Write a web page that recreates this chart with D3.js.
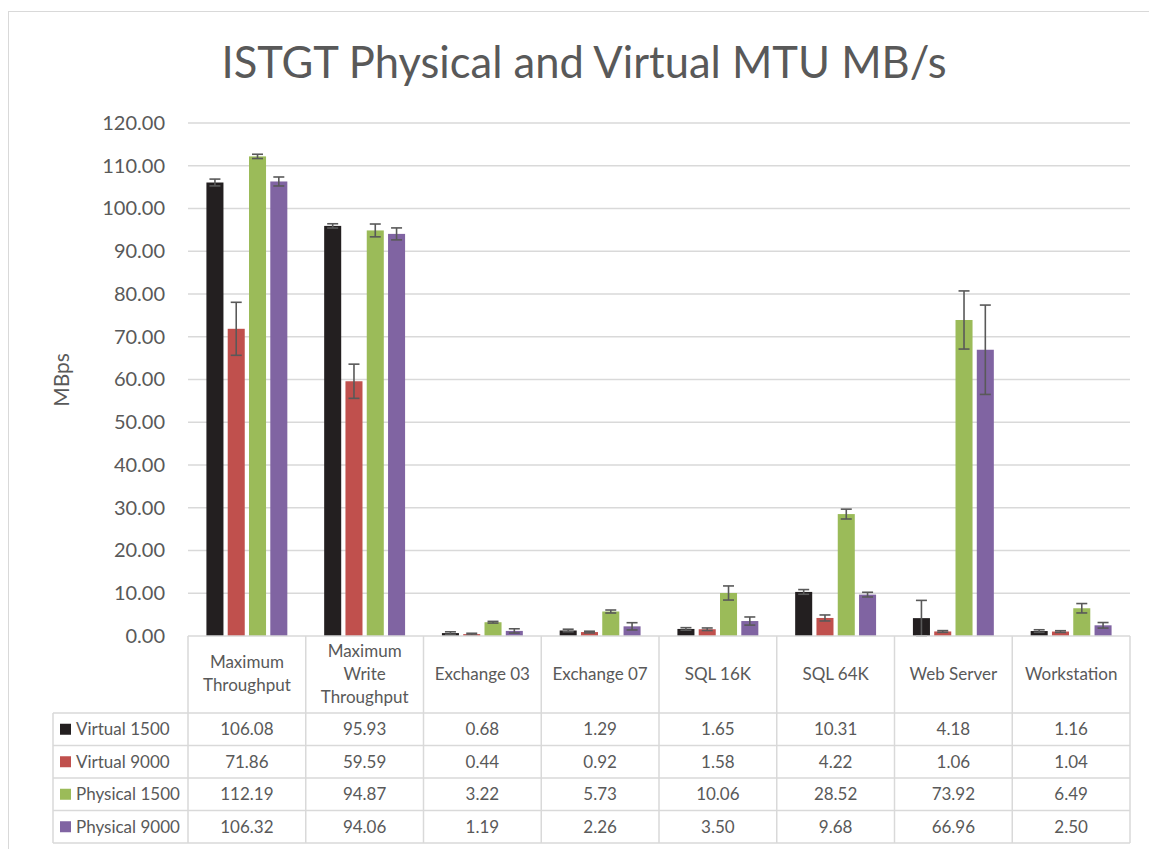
<!DOCTYPE html>
<html>
<head>
<meta charset="utf-8">
<script src="https://cdn.jsdelivr.net/npm/d3@7"></script>
<style>
  body { margin: 0; background: #fff; }
  svg text { font-family: Lato, "Open Sans", sans-serif; fill: #595959; }
</style>
</head>
<body>
<div class="bar-chart"></div>
<script>
// DATA ------------------------------
const categories = ["Maximum Throughput", "Maximum Write Throughput", "Exchange 03", "Exchange 07", "SQL 16K", "SQL 64K", "Web Server", "Workstation"]
const categoryLines = [["Maximum", "Throughput"], ["Maximum", "Write", "Throughput"], ["Exchange 03"], ["Exchange 07"], ["SQL 16K"], ["SQL 64K"], ["Web Server"], ["Workstation"]]
const seriesNames = ["Virtual 1500", "Virtual 9000", "Physical 1500", "Physical 9000"]
const virtual1500 = [106.08, 95.93, 0.68, 1.29, 1.65, 10.31, 4.18, 1.16]
const virtual9000 = [71.86, 59.59, 0.44, 0.92, 1.58, 4.22, 1.06, 1.04]
const physical1500 = [112.19, 94.87, 3.22, 5.73, 10.06, 28.52, 73.92, 6.49]
const physical9000 = [106.32, 94.06, 1.19, 2.26, 3.50, 9.68, 66.96, 2.50]
// error bar half-widths (estimated)
const virtual1500Err = [0.8, 0.5, 0.3, 0.3, 0.3, 0.55, 4.15, 0.3]
const virtual9000Err = [6.2, 4.0, 0.2, 0.2, 0.3, 0.7, 0.2, 0.2]
const physical1500Err = [0.5, 1.5, 0.2, 0.35, 1.65, 1.15, 6.8, 1.1]
const physical9000Err = [1.05, 1.4, 0.5, 0.85, 0.95, 0.55, 10.45, 0.65]
const yTicks = [0, 10, 20, 30, 40, 50, 60, 70, 80, 90, 100, 110, 120]

const seriesValues = [virtual1500, virtual9000, physical1500, physical9000]
const seriesErrors = [virtual1500Err, virtual9000Err, physical1500Err, physical9000Err]
const colors = ["#231F20", "#C0504D", "#9BBB59", "#8064A2"]

// CHART INIT ------------------------------
const width = 1149
const height = 849
const plot = {left: 188, right: 1130, top: 123, bottom: 636}

const svg = d3.select(".bar-chart").append("svg")
    .attr("width", width)
    .attr("height", height)

// outer chart frame
svg.append("rect")
    .attr("x", 8.5).attr("y", 11.5)
    .attr("width", 1300).attr("height", 1000)
    .attr("fill", "none")
    .attr("stroke", "#D9D9D9")

svg.append("text")
    .attr("x", 584)
    .attr("y", 78)
    .attr("text-anchor", "middle")
    .style("font-size", "43.5px")
    .text("ISTGT Physical and Virtual MTU MB/s")

const xScale = d3.scaleBand()
    .domain(categories)
    .range([plot.left, plot.right])

const sScale = d3.scaleBand()
    .domain(seriesNames)
    .range([0, xScale.bandwidth()])
    .paddingInner(0.2)
    .paddingOuter(0.865)

const yScale = d3.scaleLinear()
    .domain([0, 120])
    .range([plot.bottom, plot.top])

// gridlines
svg.append("g")
    .selectAll("line")
    .data(yTicks.slice(1))
    .join("line")
        .attr("x1", plot.left)
        .attr("x2", plot.right)
        .attr("y1", d => yScale(d))
        .attr("y2", d => yScale(d))
        .attr("stroke", "#D9D9D9")
        .attr("stroke-width", 1.5)

// y axis labels
const yAx = d3.axisLeft(yScale)
    .tickValues(yTicks)
    .tickFormat(d3.format(".2f"))
    .tickSize(0)
    .tickPadding(0)
const yGroup = svg.append("g")
    .attr("transform", "translate(165,0)")
    .call(yAx)
yGroup.select(".domain").remove()
yGroup.selectAll("text")
    .style("font-size", "20px")
    .style("font-family", "Lato, 'Open Sans', sans-serif")
    .attr("fill", "#595959")

svg.append("text")
    .attr("transform", "translate(69,380) rotate(-90)")
    .attr("text-anchor", "middle")
    .style("font-size", "21px")
    .text("MBps")

// bars
const barData = []
seriesNames.forEach((s, si) => {
    categories.forEach((c, ci) => {
        barData.push({series: s, si: si, cat: c, value: seriesValues[si][ci], err: seriesErrors[si][ci]})
    })
})

svg.append("g")
    .selectAll("rect")
    .data(barData)
    .join("rect")
        .attr("x", d => xScale(d.cat) + sScale(d.series))
        .attr("y", d => yScale(d.value))
        .attr("width", sScale.bandwidth())
        .attr("height", d => yScale(0) - yScale(d.value))
        .attr("fill", d => colors[d.si])

// error bars
const eb = svg.append("g")
    .attr("stroke", "#595959")
    .attr("stroke-width", 1.6)
    .selectAll("g")
    .data(barData)
    .join("g")
        .attr("transform", d => `translate(${xScale(d.cat) + sScale(d.series) + sScale.bandwidth() / 2},0)`)
eb.append("line")
    .attr("y1", d => yScale(d.value + d.err))
    .attr("y2", d => yScale(Math.max(0, d.value - d.err)))
eb.append("line")
    .attr("x1", -5.5).attr("x2", 5.5)
    .attr("y1", d => yScale(d.value + d.err))
    .attr("y2", d => yScale(d.value + d.err))
eb.append("line")
    .attr("x1", -5.5).attr("x2", 5.5)
    .attr("y1", d => yScale(Math.max(0, d.value - d.err)))
    .attr("y2", d => yScale(Math.max(0, d.value - d.err)))

// DATA TABLE ------------------------------
const rowTop = 713
const rowH = 32.5
const tableLeft = 53
const tableBottom = rowTop + rowH * seriesNames.length
const table = svg.append("g")
    .attr("stroke", "#D9D9D9")
    .attr("stroke-width", 1.5)

// axis line
table.append("line")
    .attr("x1", plot.left).attr("x2", plot.right)
    .attr("y1", plot.bottom).attr("y2", plot.bottom)

// vertical lines at category boundaries
table.selectAll(".vline")
    .data(categories.map(c => xScale(c)).concat([plot.right]))
    .join("line")
        .attr("class", "vline")
        .attr("x1", d => d).attr("x2", d => d)
        .attr("y1", plot.bottom).attr("y2", tableBottom)
table.append("line")
    .attr("x1", tableLeft).attr("x2", tableLeft)
    .attr("y1", rowTop).attr("y2", tableBottom)

// horizontal lines
table.selectAll(".hline")
    .data(d3.range(seriesNames.length + 1))
    .join("line")
        .attr("class", "hline")
        .attr("x1", tableLeft).attr("x2", plot.right)
        .attr("y1", i => rowTop + i * rowH)
        .attr("y2", i => rowTop + i * rowH)

// category header labels
const header = svg.append("g")
    .selectAll("text")
    .data(categories)
    .join("text")
        .attr("x", c => xScale(c) + xScale.bandwidth() / 2)
        .attr("text-anchor", "middle")
        .style("font-size", "17px")
header.each(function(c, i) {
    const lines = categoryLines[i]
    const lh = 23
    const cy = (plot.bottom + rowTop) / 2 + 5
    d3.select(this).selectAll("tspan")
        .data(lines)
        .join("tspan")
            .attr("x", xScale(c) + xScale.bandwidth() / 2)
            .attr("y", (l, j) => cy + (j - (lines.length - 1) / 2) * lh)
            .text(l => l)
})

// legend keys + names
const rows = svg.append("g")
    .selectAll("g")
    .data(seriesNames)
    .join("g")
        .attr("transform", (s, i) => `translate(0,${rowTop + i * rowH})`)
rows.append("rect")
    .attr("x", 60).attr("y", rowH / 2 - 5.5)
    .attr("width", 11).attr("height", 11)
    .attr("fill", (s, i) => colors[i])
rows.append("text")
    .attr("x", 76)
    .attr("y", rowH / 2 + 6)
    .style("font-size", "17px")
    .text(s => s)

// values
rows.selectAll(".val")
    .data((s, i) => seriesValues[i].map((v, ci) => ({v: v, cat: categories[ci]})))
    .join("text")
        .attr("class", "val")
        .attr("x", d => xScale(d.cat) + xScale.bandwidth() / 2)
        .attr("y", rowH / 2 + 6)
        .attr("text-anchor", "middle")
        .style("font-size", "17px")
        .text(d => d3.format(".2f")(d.v))
</script>
</body>
</html>
